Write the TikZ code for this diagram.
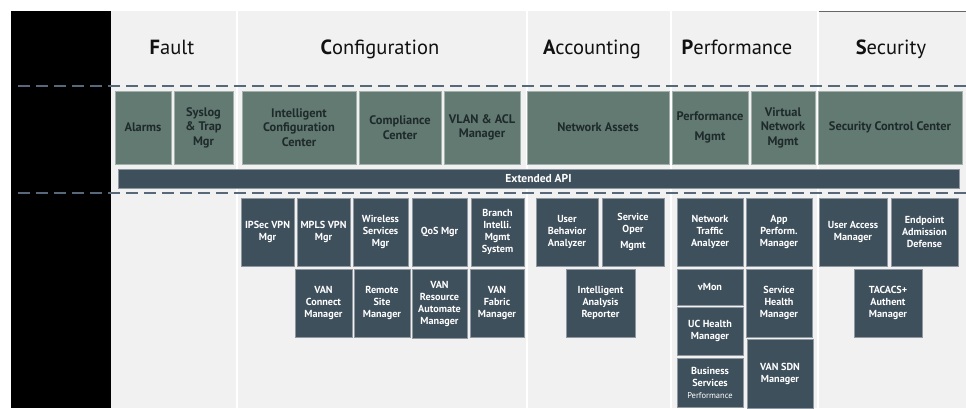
\documentclass[tikz,border=0pt]{standalone}
\usepackage{fontspec}
\setmainfont{PT Sans}
\definecolor{bgcol}{HTML}{F1F1F1}
\definecolor{topgreen}{HTML}{627A72}
\definecolor{slate}{HTML}{3F505D}
\definecolor{dashcol}{HTML}{56687A}
\definecolor{toptext}{HTML}{1F2A2A}
\definecolor{titletext}{HTML}{111111}
\tikzset{
  column/.style={fill=bgcol, draw=none},
  title/.style={anchor=base, text=titletext, font=\fontsize{20.5}{22}\selectfont},
  topbox/.style={fill=topgreen, draw=topgreen!55!bgcol, line width=0.6pt, text=toptext,
    font=\bfseries\fontsize{12.4}{14.5}\selectfont, align=center, inner sep=0pt, outer sep=0pt},
  botbox/.style={fill=slate, draw=slate!55!bgcol, line width=0.6pt, text=white,
    font=\bfseries\fontsize{10.2}{12}\selectfont, align=center, inner sep=0pt, outer sep=0pt},
  sepline/.style={draw=dashcol, line width=1.4pt, dash pattern=on 12pt off 6pt},
}
% box from corner (x1,y1) to corner (x2,y2)
\newcommand{\blockat}[7]{\node[#1, minimum width=#5pt-#3pt, minimum height=#6pt-#4pt] (#2) at ({(#3+#5)/2},{(#4+#6)/2}) {#7};}
\begin{document}
\begin{tikzpicture}[x=1pt,y=-1pt]
\useasboundingbox (0,0) rectangle (966,408);
\fill[white] (0,0) rectangle (966,408);
% left panel and the five columns
\fill[black] (11,11) rectangle (110.5,408);
\fill[column] (110.5,11) rectangle (235.5,408);
\fill[column] (237.5,11) rectangle (525.5,408);
\fill[column] (527.5,11) rectangle (669.5,408);
\fill[column] (671.5,11) rectangle (816.5,408);
\fill[column] (818.5,11) rectangle (966,408);
\draw[gray!80!black, line width=0.8pt] (818.5,11) -- (966,11);
% titles
\node[title] (fault) at (172,54.5) {\textbf{F}ault};
\node[title] (config) at (380,54.5) {\textbf{C}onfiguration};
\node[title] (acct) at (592,54.5) {\textbf{A}ccounting};
\node[title] (perf) at (737,54.5) {\textbf{P}erformance};
\node[title] (secu) at (891,54.5) {\textbf{S}ecurity};
% dashed separators
\coordinate (upl) at (18,86);
\coordinate (upr) at (966,86);
\coordinate (lol) at (18,193);
\coordinate (lor) at (966,193);
\draw[sepline] (upl) -- (upr);
\draw[sepline] (lol) -- (lor);
% top row
\blockat{topbox}{alarms}{115}{91}{171}{164}{Alarms}
\blockat{topbox}{syslog}{174}{91}{233}{164}{Syslog\\\& Trap\\Mgr}
\blockat{topbox}{icc}{242}{91}{356}{164}{Intelligent\\Configuration\\Center}
\blockat{topbox}{compl}{359}{91}{441}{164}{Compliance\\Center}
\blockat{topbox}{vlan}{444}{91}{520}{164}{VLAN \& ACL\\Manager}
\blockat{topbox}{netassets}{527}{91}{669}{164}{Network Assets}
\blockat{topbox}{perfmgmt}{672}{91}{748}{164}{Performance\\[5pt]Mgmt}
\blockat{topbox}{vnm}{751}{91}{815}{164}{Virtual\\Network\\Mgmt}
\blockat{topbox}{scc}{818}{91}{962}{164}{Security Control Center}
% extended api
\blockat{botbox,font=\bfseries\fontsize{11.5}{13}\selectfont}{api}{118}{169}{959}{188}{Extended API}
% lower rows
\blockat{botbox}{ipsec}{241}{198}{294}{266}{IPSec VPN\\Mgr}
\blockat{botbox}{mpls}{297}{198}{350}{266}{MPLS VPN\\Mgr}
\blockat{botbox}{wireless}{353}{198}{408}{266}{Wireless\\Services\\Mgr}
\blockat{botbox}{qos}{412}{198}{467}{266}{QoS Mgr}
\blockat{botbox}{branch}{471}{198}{524}{266}{Branch\\Intelli.\\Mgmt\\System}
\blockat{botbox}{vancon}{295}{269}{352}{337}{VAN\\Connect\\Manager}
\blockat{botbox}{remote}{354}{269}{410}{337}{Remote\\Site\\Manager}
\blockat{botbox}{vanres}{412}{269}{467}{338}{VAN\\Resource\\Automate\\Manager}
\blockat{botbox}{vanfab}{470}{269}{524}{337}{VAN\\Fabric\\Manager}
\blockat{botbox}{uba}{536}{198}{598}{266}{User\\Behavior\\Analyzer}
\blockat{botbox}{som}{602}{198}{664}{266}{Service\\Oper\\[4pt]Mgmt}
\blockat{botbox}{iar}{566}{269}{635}{337}{Intelligent\\Analysis\\Reporter}
\blockat{botbox}{nta}{677}{198}{743}{266}{Network\\Traffic\\Analyzer}
\blockat{botbox}{apm}{746}{198}{812}{266}{App\\Perform.\\Manager}
\blockat{botbox}{vmon}{677}{269}{743}{305}{vMon}
\blockat{botbox}{uchm}{677}{307}{743}{355}{UC Health\\Manager}
\blockat{botbox}{bsp}{677}{358}{743}{407}{Business\\Services\\{\mdseries\fontsize{8.5}{9}\selectfont Performance}}
\blockat{botbox}{shm}{746}{269}{812}{337}{Service\\Health\\Manager}
\blockat{botbox}{vansdn}{747}{339}{813}{408}{VAN SDN\\Manager}
\blockat{botbox}{uam}{819}{198}{887}{266}{User Access\\Manager}
\blockat{botbox}{ead}{891}{198}{958}{266}{Endpoint\\Admission\\Defense}
\blockat{botbox}{tacacs}{854}{269}{922}{337}{TACACS+\\Authent\\Manager}
\end{tikzpicture}
\end{document}
